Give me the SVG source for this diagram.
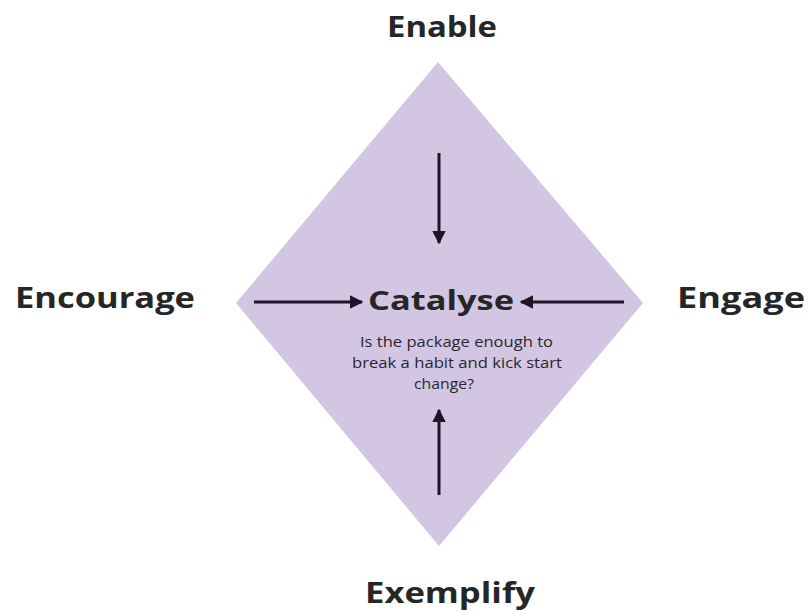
<svg xmlns="http://www.w3.org/2000/svg" width="809" height="612" viewBox="0 0 809 612">
<defs>
<style>
.lbl{font-family:"Open Sans","Liberation Sans",sans-serif;font-weight:bold;fill:#262626;}
.big{font-size:28px;}
.small{font-family:"Open Sans","Liberation Sans",sans-serif;font-size:14px;fill:#2a2630;}
.conn{stroke:#1e1626;stroke-width:3;fill:none;marker-end:url(#ah);}
</style>
<marker id="ah" viewBox="0 0 10 10" refX="9" refY="5" markerWidth="4.5" markerHeight="4.5" orient="auto" markerUnits="strokeWidth">
<path d="M0,0 L10,5 L0,10 Z" fill="#1e1626"/>
</marker>
</defs>
<rect width="809" height="612" fill="#ffffff"/>
<g id="diamond">
<polygon points="438,62 643,303 439,546 236,303" fill="#d2c6e3"/>
</g>
<g id="enable"><text class="lbl big" x="387" y="37" textLength="110" lengthAdjust="spacingAndGlyphs">Enable</text></g>
<g id="encourage"><text class="lbl big" x="15" y="308" textLength="180" lengthAdjust="spacingAndGlyphs">Encourage</text></g>
<g id="engage"><text class="lbl big" x="677" y="308" textLength="128" lengthAdjust="spacingAndGlyphs">Engage</text></g>
<g id="exemplify"><text class="lbl big" x="365" y="603" textLength="170" lengthAdjust="spacingAndGlyphs">Exemplify</text></g>
<g id="catalyse">
<text class="lbl" font-size="26" x="368" y="310" textLength="146" lengthAdjust="spacingAndGlyphs">Catalyse</text>
<text class="small" x="360" y="347" textLength="193" lengthAdjust="spacingAndGlyphs">Is the package enough to</text>
<text class="small" x="352" y="368" textLength="210" lengthAdjust="spacingAndGlyphs">break a habit and kick start</text>
<text class="small" x="414" y="389" textLength="60" lengthAdjust="spacingAndGlyphs">change?</text>
</g>
<g id="connectors">
<line class="conn" x1="439" y1="153" x2="439" y2="243"/>
<line class="conn" x1="254" y1="302" x2="362" y2="302"/>
<line class="conn" x1="624" y1="302" x2="521" y2="302"/>
<line class="conn" x1="439" y1="495" x2="439" y2="410"/>
</g>
</svg>
